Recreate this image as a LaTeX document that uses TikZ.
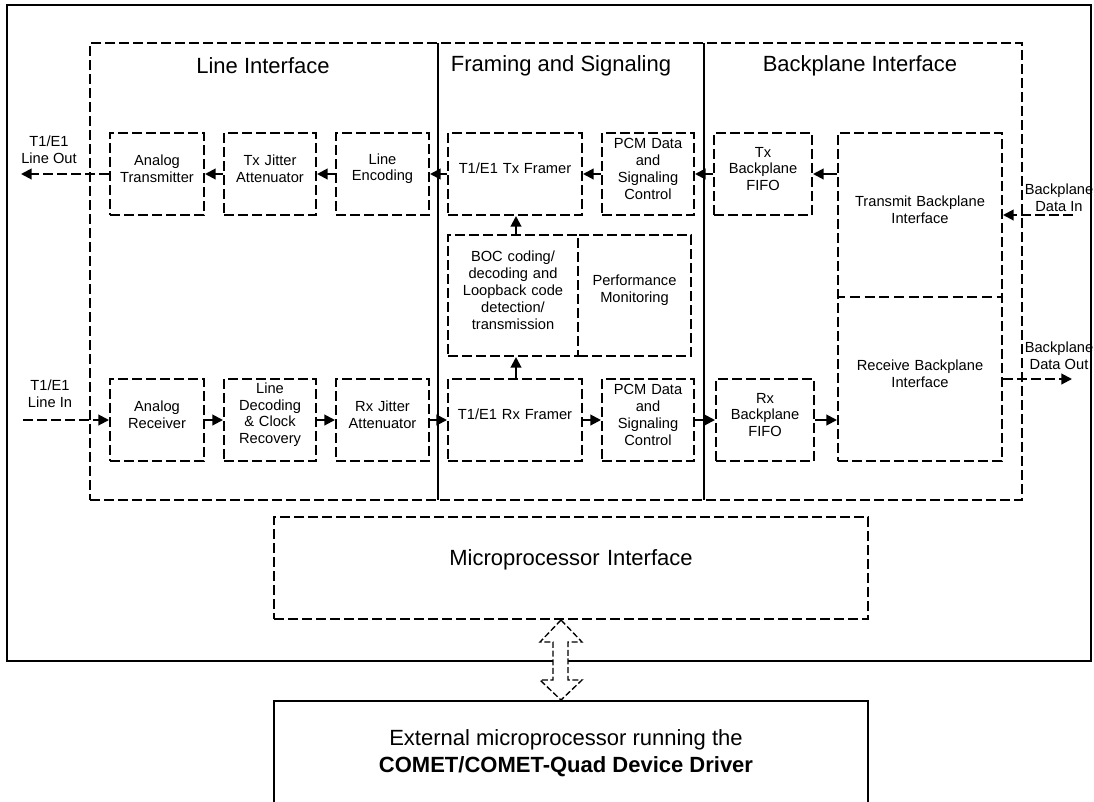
\documentclass[tikz,border=0pt]{standalone}
\usepackage{fontspec}
\setmainfont{Liberation Sans}
\usetikzlibrary{arrows.meta,fit}
\begin{document}
\begin{tikzpicture}[x=0.75pt,y=-0.75pt,
  dpat/.style={dash pattern=on 7.5pt off 3pt},
  boxfont/.style={font=\fontsize{11}{12.6}\selectfont},
  dbox/.style={draw, line width=1.5pt, dpat, inner sep=0pt, fit={#1}, align=center, boxfont},
  tbox/.style={inner sep=0pt, fit={#1}, align=center, boxfont},
  sbox/.style={draw, line width=1.5pt, inner sep=0pt, fit={#1}, align=center},
  titlefont/.style={font=\fontsize{16.5}{20}\selectfont},
  lbl/.style={align=center, inner sep=0pt, boxfont},
  arr/.style={-{Triangle[length=8pt,width=8pt]}, line width=1.5pt},
  darr/.style={arr, dpat},
  divider/.style={line width=1pt}
]
\useasboundingbox (0,0) rectangle (1094,801);
\clip (0,0) rectangle (1094,801);

% outer frame
\node[sbox={(7,5)(1091,661)}] (outer) {};

% big dashed frame and dividers
\node[dbox={(90,43)(1022,500)}] (big) {};
\coordinate (d1t) at (438,43); \coordinate (d1b) at (438,500);
\coordinate (d2t) at (704,43); \coordinate (d2b) at (704,500);
\draw[divider] (d1t) -- (d1b);
\draw[divider] (d2t) -- (d2b);

% titles
\node[titlefont] (tli) at (263,66) {Line Interface};
\node[titlefont] (tfs) at (561,66) {Framing and Signaling};
\node[titlefont] (tbi) at (860,66) {Backplane Interface};

% transmit row
\node[dbox={(110,133)(204,215)}] (AT) {Analog\\Transmitter};
\node[dbox={(224,133)(316,215)}] (TJ) {Tx Jitter\\Attenuator};
\node[dbox={(336,133)(429,215)}] (LE) {Line\\Encoding};
\node[dbox={(448,133)(582,215)}] (TF) {T1/E1 Tx Framer};
\node[dbox={(602,133)(694,215)}] (PT) {PCM Data\\and\\Signaling\\Control};
\node[dbox={(714,133)(812,215)}] (TFIFO) {Tx\\Backplane\\FIFO};

% backplane interface block (transmit + receive halves)
\node[dbox={(838,133)(1002,461)}] (BPB) {};
\node[tbox={(838,133)(1002,297)}] (TBI) {Transmit Backplane\\Interface};
\node[tbox={(838,297)(1002,461)}] (RBI) {Receive Backplane\\Interface};
\coordinate (splitL) at (838,297);
\coordinate (splitR) at (1002,297);
\draw[line width=1.5pt, dash pattern=on 7.5pt off 3.5pt, dash phase=2pt] (splitL) -- (splitR);

% middle
\node[dbox={(448,235)(578,356)}] (BOC) {BOC coding/\\decoding and\\Loopback code\\detection/\\transmission};
\node[dbox={(578,235)(691,356)}] (PM) {Performance\\Monitoring};

% receive row
\node[dbox={(110,379)(204,461)}] (AR) {Analog\\Receiver};
\node[dbox={(224,379)(316,461)}] (LD) {Line\\Decoding\\\& Clock\\Recovery};
\node[dbox={(336,379)(429,461)}] (RJ) {Rx Jitter\\Attenuator};
\node[dbox={(448,379)(582,461)}] (RF) {T1/E1 Rx Framer};
\node[dbox={(602,379)(694,461)}] (PR) {PCM Data\\and\\Signaling\\Control};
\node[dbox={(716,379)(814,461)}] (RFIFO) {Rx\\Backplane\\FIFO};

% microprocessor interface
\node[dbox={(274,517)(868,619)}, titlefont] (MPI) {Microprocessor Interface};

% external processor box
\node[sbox={(274,701)(868,830)}] (EXT) {};
\node[align=center, inner sep=0pt, font=\fontsize{16.5}{20.2}\selectfont] (EXTt) at (566,753)
  {External microprocessor running the\\\textbf{COMET/COMET-Quad Device Driver}};

% hollow double arrow
\draw[line width=1pt, dash pattern=on 4.5pt off 2pt, fill=white]
  (MPI.south -| 561,0) -- (540,642) -- (553,642) -- (553,680) -- (540,680)
  -- (EXT.north -| 561,0) -- (582,680) -- (568,680) -- (568,642) -- (582,642) -- cycle;

% transmit arrows
\draw[arr] (TJ.west) -- (AT.east);
\draw[arr] (LE.west) -- (TJ.east);
\draw[arr] (TF.west) -- (LE.east);
\draw[arr] (PT.west) -- (TF.east);
\draw[arr] (TFIFO.west) -- (PT.east);
\draw[arr] (BPB.west |- TFIFO.east) -- (TFIFO.east);

% receive arrows
\draw[arr] (AR.east) -- (LD.west);
\draw[arr] (LD.east) -- (RJ.west);
\draw[arr] (RJ.east) -- (RF.west);
\draw[arr] (RF.east) -- (PR.west);
\draw[arr] (PR.east) -- (RFIFO.west);
\draw[arr] (RFIFO.east) -- (BPB.west |- RFIFO.east);

% vertical arrows
\draw[arr] (RF.north -| 516,0) -- (BOC.south -| 516,0);
\draw[arr] (BOC.north -| 516,0) -- (TF.south -| 516,0);

% external lines
\coordinate (lineout) at (21,174);
\coordinate (linein) at (23,420);
\coordinate (bpin) at (1073,215);
\coordinate (bpout) at (1072,379);
\draw[darr] (AT.west) -- (lineout);
\draw[darr] (linein) -- (AR.west);
\draw[darr] (bpin) -- (BPB.east |- bpin);
\draw[darr] (BPB.east |- bpout) -- (bpout);

\node[lbl] (lLO) at (49,150) {T1/E1\\Line Out};
\node[lbl] (lLI) at (50,394) {T1/E1\\Line In};
\node[lbl] (lBI) at (1059,198) {Backplane\\Data In};
\node[lbl] (lBO) at (1059,356) {Backplane\\Data Out};
\end{tikzpicture}
\end{document}
